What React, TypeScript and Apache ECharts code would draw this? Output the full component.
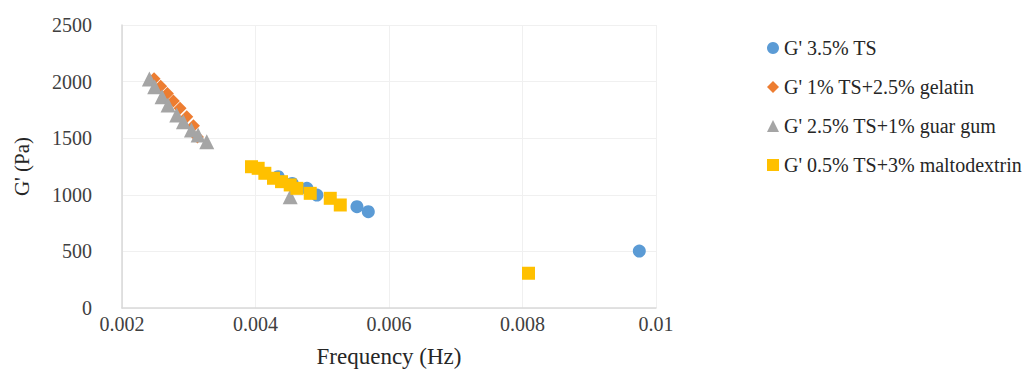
import React, { useEffect, useRef } from "react";
import * as echarts from "echarts";

const seriesNames = [
  "G' 3.5% TS",
  "G' 1% TS+2.5% gelatin",
  "G' 2.5% TS+1% guar gum",
  "G' 0.5% TS+3% maltodextrin",
];

const tsFreq = [0.00434, 0.00455, 0.00477, 0.00492, 0.00552, 0.00569, 0.00975];
const tsG = [1160, 1100, 1057, 998, 895, 851, 503];

const gelatinFreq = [0.00248, 0.00258, 0.00268, 0.00277, 0.00287, 0.00297, 0.00307, 0.00313];
const gelatinG = [2025, 1960, 1895, 1829, 1764, 1690, 1610, 1510];

const guarFreq = [0.00241, 0.00249, 0.0026, 0.00269, 0.00282, 0.00292, 0.00304, 0.00314, 0.00327, 0.00452];
const guarG = [2023, 1955, 1867, 1793, 1705, 1646, 1572, 1528, 1469, 983];

const maltoFreq = [0.00394, 0.00404, 0.00414, 0.00427, 0.00439, 0.00452, 0.00462, 0.00482, 0.00512, 0.00527, 0.00809];
const maltoG = [1248, 1234, 1190, 1146, 1116, 1087, 1057, 1013, 969, 910, 307];

const colors = ["#5B9BD5", "#ED7D31", "#A5A5A5", "#FFC000"];
const symbols = ["circle", "diamond", "triangle", "rect"];
const symbolSizes = [13, 13, 15, 13];

const xTicks = { min: 0.002, max: 0.01, interval: 0.002 };
const yTicks = { min: 0, max: 2500, interval: 500 };

const FONT = "Liberation Serif";

function pairs(xs: number[], ys: number[]) {
  return xs.map((x, i) => [x, ys[i]]);
}

export default function App() {
  const ref = useRef<HTMLDivElement>(null);
  useEffect(() => {
    document.body.style.margin = "0";
    if (!ref.current) return;
    const chart = echarts.init(ref.current, undefined, { renderer: "svg" });
    const datasets = [
      pairs(tsFreq, tsG),
      pairs(gelatinFreq, gelatinG),
      pairs(guarFreq, guarG),
      pairs(maltoFreq, maltoG),
    ];
    chart.setOption({
      animation: false,
      backgroundColor: "#ffffff",
      textStyle: { fontFamily: FONT },
      grid: { left: 122, top: 25, width: 534, height: 283 },
      legend: {
        orient: "vertical",
        left: 762,
        top: 33,
        itemWidth: 12,
        itemHeight: 12,
        itemGap: 19,
        textStyle: { fontFamily: FONT, fontSize: 20, color: "#262626" },
        data: seriesNames.map((n, i) => ({ name: n, icon: symbols[i] })),
      },
      xAxis: {
        type: "value",
        min: xTicks.min,
        max: xTicks.max,
        interval: xTicks.interval,
        name: "Frequency (Hz)",
        nameLocation: "middle",
        nameGap: 37,
        nameTextStyle: { fontFamily: FONT, fontSize: 23, color: "#262626" },
        axisLine: { show: true, lineStyle: { color: "#d9d9d9", width: 1.5 } },
        axisTick: { show: false },
        axisLabel: {
          fontFamily: FONT,
          fontSize: 20,
          color: "#404040",
          margin: 6,
          formatter: (v: number) => String(+v.toFixed(4)),
        },
        splitLine: { show: true, lineStyle: { color: "#f0f0f0", width: 1 } },
      },
      yAxis: {
        type: "value",
        min: yTicks.min,
        max: yTicks.max,
        interval: yTicks.interval,
        name: "G' (Pa)",
        nameLocation: "middle",
        nameGap: 90,
        nameRotate: 90,
        nameTextStyle: { fontFamily: FONT, fontSize: 21, color: "#262626" },
        axisLine: { show: true, lineStyle: { color: "#d9d9d9", width: 1.5 } },
        axisTick: { show: false },
        axisLabel: {
          fontFamily: FONT,
          fontSize: 20,
          color: "#404040",
          margin: 30,
          formatter: (v: number) => String(v),
        },
        splitLine: { show: true, lineStyle: { color: "#f0f0f0", width: 1 } },
      },
      series: datasets.map((d, i) => ({
        name: seriesNames[i],
        type: "scatter",
        data: d,
        symbol: symbols[i],
        symbolSize: symbolSizes[i],
        itemStyle: { color: colors[i], opacity: 1 },
      })),
    });
    return () => chart.dispose();
  }, []);
  return <div ref={ref} style={{ width: 1033, height: 378 }} />;
}
